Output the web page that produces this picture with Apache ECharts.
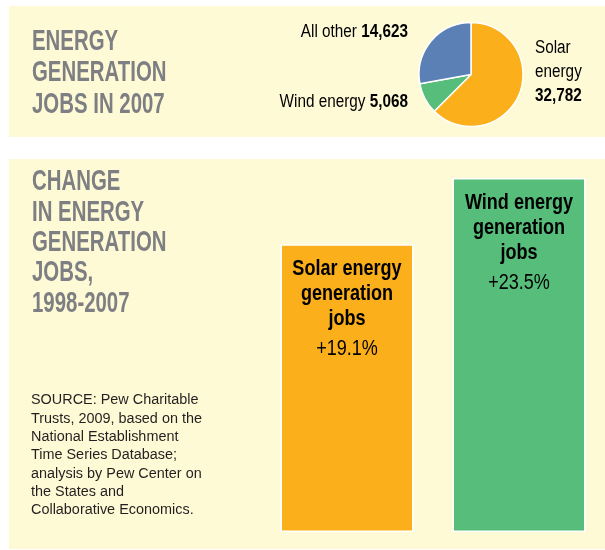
<!DOCTYPE html>
<html>
<head>
<meta charset="utf-8">
<script src="https://cdn.jsdelivr.net/npm/echarts@6/dist/echarts.min.js"></script>
<style>
  html, body { margin: 0; padding: 0; background: #ffffff; }
  #chart { width: 605px; height: 550px; }
</style>
</head>
<body>
<div id="chart"></div>
<script>
// ---- data ----
const pieNames = ['Solar energy', 'Wind energy', 'All other'];
const pieValues = [32782, 5068, 14623];
const pieValueLabels = ['32,782', '5,068', '14,623'];
const barCategories = ['Solar energy generation jobs', 'Wind energy generation jobs'];
const barValues = [19.1, 23.5];
const barValueLabels = ['+19.1%', '+23.5%'];
const topTitle = 'ENERGY\nGENERATION\nJOBS IN 2007';
const bottomTitle = 'CHANGE\nIN ENERGY\nGENERATION\nJOBS,\n1998-2007';
const sourceText = 'SOURCE: Pew Charitable\nTrusts, 2009, based on the\nNational Establishment\nTime Series Database;\nanalysis by Pew Center on\nthe States and\nCollaborative Economics.';

// ---- style ----
const FONT = "'Liberation Sans', Arial, sans-serif";
const PANEL = '#fffad6';
const GRAY = '#7e7f83';
const INK = '#231f20';
const colors = ['#fbb01b', '#57bd7a', '#5b80b6'];

const chart = echarts.init(document.getElementById('chart'));

chart.setOption({
  animation: false,
  backgroundColor: '#ffffff',
  grid: { left: 261, top: 178, width: 351, height: 354 },
  xAxis: { type: 'category', data: barCategories, show: false },
  yAxis: { type: 'value', min: 0, max: 23.5, show: false },
  series: [
    {
      type: 'pie',
      center: [471, 74.5],
      radius: 52,
      startAngle: 90,
      clockwise: true,
      itemStyle: { borderColor: '#ffffff', borderWidth: 1.5 },
      label: { show: false },
      labelLine: { show: false },
      data: pieNames.map((n, i) => ({ name: n, value: pieValues[i], itemStyle: { color: colors[i] } }))
    },
    {
      type: 'bar',
      barWidth: 133,
      data: barValues.map((v, i) => ({ value: v, itemStyle: { color: colors[i] } })),
      itemStyle: { borderColor: '#ffffff', borderWidth: 1.5 },
      label: { show: false }
    }
  ]
});

// text elements (condensed via horizontal scaling)
const graphics = [
  { type: 'rect', z: -10, shape: { x: 9, y: 6, width: 596, height: 131 }, style: { fill: PANEL } },
  { type: 'rect', z: -10, shape: { x: 9, y: 159, width: 596, height: 390 }, style: { fill: PANEL } },
  { type: 'text', z: 1, x: 32, y: 25.5, scaleX: 0.68,
    style: { text: topTitle, font: 'bold 30px ' + FONT, fill: GRAY, lineHeight: 31.6, verticalAlign: 'top' } },
  { type: 'text', z: 1, x: 32, y: 167, scaleX: 0.68,
    style: { text: bottomTitle, font: 'bold 30px ' + FONT, fill: GRAY, lineHeight: 30.3, verticalAlign: 'top' } },
  { type: 'text', z: 1, x: 31, y: 391, scaleX: 0.93,
    style: { text: sourceText, font: '15.5px ' + FONT, fill: INK, lineHeight: 18.3, verticalAlign: 'top' } }
];

// pie labels
const pieRich = {
  n: { fontFamily: FONT, fontSize: 18, color: INK, lineHeight: 24 },
  v: { fontFamily: FONT, fontSize: 18, fontWeight: 'bold', color: INK, lineHeight: 24 }
};
const pieLabelPos = [
  { x: 535, y: 72, align: 'left' },
  { x: 408, y: 102, align: 'right' },
  { x: 408, y: 32, align: 'right' }
];
pieNames.forEach((n, i) => {
  const text = i === 0
    ? '{n|' + n.split(' ')[0] + '}\n{n|' + n.split(' ')[1] + '}\n{v|' + pieValueLabels[i] + '}'
    : '{n|' + n + ' }{v|' + pieValueLabels[i] + '}';
  graphics.push({
    type: 'text', z: 5, x: pieLabelPos[i].x, y: pieLabelPos[i].y, scaleX: 0.85,
    style: { text: text, rich: pieRich, align: pieLabelPos[i].align, verticalAlign: 'middle' }
  });
});

// bar labels, placed from the bar's own pixel position
const barRich = {
  t: { fontFamily: FONT, fontSize: 22, fontWeight: 'bold', color: INK, lineHeight: 25, align: 'center' },
  p: { fontFamily: FONT, fontSize: 22, color: INK, lineHeight: 35, align: 'center' }
};
barCategories.forEach((c, i) => {
  const pt = chart.convertToPixel({ xAxisIndex: 0, yAxisIndex: 0 }, [i, barValues[i]]);
  const w = c.split(' ');
  const text = '{t|' + w[0] + ' ' + w[1] + '}\n{t|' + w[2] + '}\n{t|' + w[3] + '}\n{p|' + barValueLabels[i] + '}';
  graphics.push({
    type: 'text', z: 5, x: pt[0], y: pt[1] + 12.5, scaleX: 0.82,
    style: { text: text, rich: barRich, align: 'center', verticalAlign: 'top' }
  });
});

chart.setOption({ graphic: graphics });
</script>
</body>
</html>
